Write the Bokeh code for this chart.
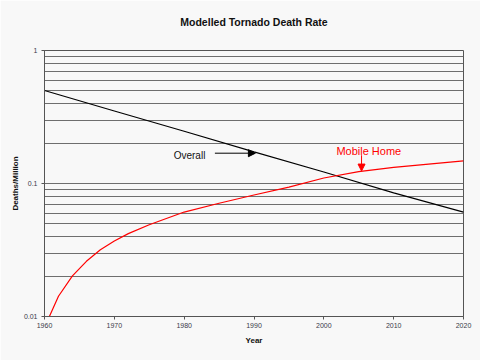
from bokeh.plotting import figure
from bokeh.models import FixedTicker, Arrow, NormalHead, Label, Title
from bokeh.embed import file_html
from bokeh.resources import INLINE

# ---- data ----
overall_years = [1960, 1970, 1980, 1990, 2000, 2010, 2020]
overall_rate = [0.50, 0.351, 0.247, 0.173, 0.122, 0.085, 0.061]

mobile_years = [1960.7, 1962, 1964, 1966, 1968, 1970, 1972, 1975, 1980,
                1985, 1990, 1995, 2000, 2005, 2010, 2015, 2020]
mobile_rate = [0.010, 0.0142, 0.0202, 0.026, 0.0318, 0.037, 0.042, 0.049,
               0.061, 0.071, 0.082, 0.094, 0.110, 0.123, 0.132, 0.140, 0.148]

x_ticks = [1960, 1970, 1980, 1990, 2000, 2010, 2020]
y_ticks = [0.01, 0.1, 1]
y_minor = [0.02, 0.03, 0.04, 0.05, 0.06, 0.07, 0.08, 0.09,
           0.2, 0.3, 0.4, 0.5, 0.6, 0.7, 0.8, 0.9]
y_labels = {0.01: "0.01", 0.1: "0.1", 1: "1"}

TITLE = "Modelled Tornado Death Rate"

# annotation anchors
overall_label = (1978.5, 0.162)
overall_arrow = (1984.4, 0.169, 1990.2, 0.169)
mobile_label = (2001.8, 0.177)
mobile_arrow = (2005.4, 0.163, 2005.4, 0.124)

FONT = "Liberation Sans"
BG = "#f8f8f8"
GRID = "#6e6e6e"

p = figure(width=480, height=360, y_axis_type="log",
           x_range=(1960, 2020), y_range=(0.01, 1),
           output_backend="svg", toolbar_location=None,
           min_border_left=44, min_border_right=17,
           min_border_top=50, min_border_bottom=44)
p.background_fill_color = BG
p.border_fill_color = BG
p.outline_line_color = "#555555"

p.title.text = TITLE
p.title.align = "center"
p.title.text_font = FONT
p.title.text_font_size = "10.5px"
p.title.text_font_style = "bold"
p.title.text_color = "#111111"

# invisible spacer between the title and the plot frame
p.add_layout(Title(text=" ", text_font_size="5px", text_color=BG), "above")

p.xgrid.grid_line_color = None
p.ygrid.grid_line_color = GRID
p.ygrid.minor_grid_line_color = GRID
p.yaxis.ticker = FixedTicker(ticks=y_ticks, minor_ticks=y_minor)
p.xaxis.ticker = FixedTicker(ticks=x_ticks)
p.yaxis.major_label_overrides = y_labels

for ax in (p.xaxis[0], p.yaxis[0]):
    ax.major_label_text_font = FONT
    ax.major_label_text_font_size = "7px"
    ax.major_label_text_color = "#3a3a48"
    ax.minor_tick_line_color = None
    ax.major_tick_in = 0
    ax.major_tick_out = 3
    ax.major_tick_line_color = "#555555"
    ax.axis_line_color = "#555555"
    ax.axis_label_text_font = FONT
    ax.axis_label_text_font_size = "8px"
    ax.axis_label_text_font_style = "bold"
    ax.axis_label_text_color = "#111111"

p.xaxis.axis_label = "Year"
p.yaxis.axis_label = "Deaths/Million"
p.xaxis.major_label_standoff = 3
p.yaxis.major_label_standoff = 3
p.xaxis.axis_label_standoff = 5
p.yaxis.axis_label_standoff = 1

p.line(overall_years, overall_rate, line_color="black", line_width=1.2)
p.line(mobile_years, mobile_rate, line_color="#ff0000", line_width=1.2)

p.add_layout(Label(x=overall_label[0], y=overall_label[1], text="Overall",
                   text_font=FONT, text_font_size="10px",
                   text_baseline="middle", text_color="#111111"))
p.add_layout(Arrow(end=NormalHead(size=7, fill_color="black", line_color="black"),
                   x_start=overall_arrow[0], y_start=overall_arrow[1],
                   x_end=overall_arrow[2], y_end=overall_arrow[3],
                   line_color="black", line_width=1))
p.add_layout(Label(x=mobile_label[0], y=mobile_label[1], text="Mobile Home",
                   text_font=FONT, text_font_size="11px",
                   text_baseline="middle", text_color="#ff0000"))
p.add_layout(Arrow(end=NormalHead(size=7, fill_color="#ff0000", line_color="#ff0000"),
                   x_start=mobile_arrow[0], y_start=mobile_arrow[1],
                   x_end=mobile_arrow[2], y_end=mobile_arrow[3],
                   line_color="#ff0000", line_width=1))

open("out.html", "w").write(file_html(p, INLINE))
